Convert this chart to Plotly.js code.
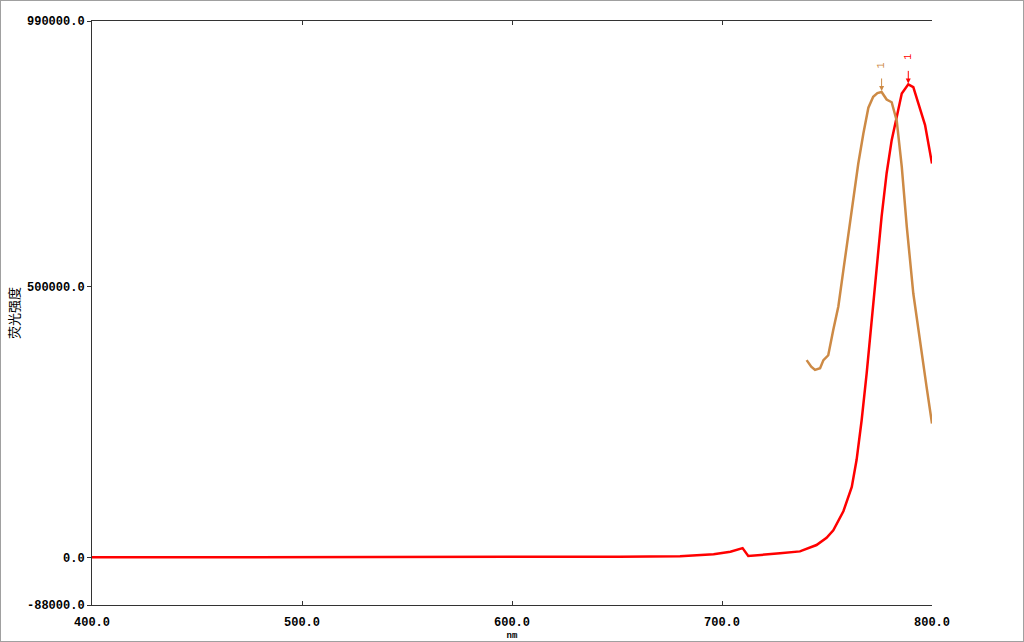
<!DOCTYPE html>
<html>
<head>
<meta charset="utf-8">
<script src="https://cdn.plot.ly/plotly-3.0.1.min.js"></script>
<style>
html,body{margin:0;padding:0;background:#fff;}
#wrap{position:relative;width:1024px;height:642px;}
#chart{width:1024px;height:642px;}
#frame{position:absolute;left:0;top:0;width:1022px;height:640px;border:1px solid #a0a0a0;pointer-events:none;}
</style>
</head>
<body>
<div id="wrap"><div id="chart"></div><div id="frame"></div></div>
<script>
// Emission spectrum (red)
const redX = [400, 500, 600, 650, 651, 680, 696, 704, 709.8, 712.5, 720, 727.6, 737.1, 745, 749.8, 753, 757.8, 761.8, 764.1, 766.5, 768.9, 771.3, 773.6, 776, 778.4, 780.8, 783.2, 785.6, 788.7, 791.1, 793.5, 796.7, 800];
const redY = [0, 0, 0, 0, 1200, 1800, 5500, 10300, 17000, 2400, 4500, 7400, 11000, 22700, 36000, 50000, 85000, 130000, 180000, 253000, 340000, 438000, 536000, 629000, 709000, 770000, 813000, 856000, 873000, 868000, 838000, 798000, 727000];

// Excitation spectrum (brown)
const brownX = [740.3, 742.5, 744.3, 746.7, 748.3, 750.6, 753, 755.4, 757.8, 760.2, 762.5, 764.9, 767.3, 769.7, 772, 774, 776, 778.4, 780.8, 783.2, 785.6, 788, 791.1, 794.3, 797.4, 800];
const brownY = [364000, 352000, 346000, 349000, 364000, 373000, 420000, 463000, 530000, 598000, 660000, 727000, 782000, 830000, 850000, 857000, 859000, 845000, 840000, 806000, 721000, 610000, 487000, 395000, 315000, 247000];

// Peak labels
const peakX = [776, 788.7];
const peakY = [859000, 873000];
const peakLabels = ["1", "1"];
const peakColors = ["#CD8A45", "#FF0000"];

// Axes ticks
const xTicks = [400, 500, 600, 700, 800];
const xTickText = ["400.0", "500.0", "600.0", "700.0", "800.0"];
const yTicks = [-88000, 0, 500000, 990000];
const yTickText = ["-88000.0", "0.0", "500000.0", "990000.0"];

const tickFont = {family: "Liberation Mono, DejaVu Sans Mono, monospace", size: 12, color: "#000", weight: "bold"};

const traces = [
  {x: redX, y: redY, type: "scatter", mode: "lines", line: {color: "#FF0000", width: 2.5}, hoverinfo: "skip"},
  {x: brownX, y: brownY, type: "scatter", mode: "lines", line: {color: "#CD8A45", width: 2.5}, hoverinfo: "skip"}
];

const annotations = [];
peakX.forEach((px, i) => {
  annotations.push({
    x: px, y: peakY[i], xref: "x", yref: "y", text: "",
    showarrow: true, ax: 0, ay: -15, arrowhead: 2, arrowsize: 1, arrowwidth: 1,
    arrowcolor: peakColors[i], standoff: 1
  });
  annotations.push({
    x: px, y: peakY[i], xref: "x", yref: "y", text: peakLabels[i], textangle: -90,
    showarrow: false, yshift: 26 + i * 2, yanchor: "middle",
    font: {family: "Liberation Mono, monospace", size: 10, color: peakColors[i]}
  });
});

const layout = {
  width: 1024, height: 642,
  margin: {l: 92, r: 92, t: 21, b: 37},
  paper_bgcolor: "#fff", plot_bgcolor: "#fff",
  showlegend: false,
  xaxis: {
    range: [400, 800], tickvals: xTicks, ticktext: xTickText,
    ticks: "inside", ticklen: 4, tickcolor: "#333", tickwidth: 1,
    showline: true, linecolor: "#333", linewidth: 1, mirror: "ticks",
    showgrid: false, zeroline: false, tickfont: tickFont, ticklabelstandoff: 6,
    title: {text: "nm", font: {family: "Liberation Mono, monospace", size: 9, color: "#000", weight: "bold"}, standoff: 2}
  },
  yaxis: {
    range: [-88000, 990000], tickvals: yTicks, ticktext: yTickText,
    ticks: "outside", ticklen: 4, tickcolor: "#333", tickwidth: 1,
    showline: true, linecolor: "#333", linewidth: 1, mirror: false,
    showgrid: false, zeroline: false, tickfont: tickFont, ticklabelstandoff: 0,
    title: {text: "荧光强度", font: {family: "Noto Sans CJK SC, sans-serif", size: 13, color: "#000"}, standoff: 4}
  },
  yaxis2: {
    overlaying: "y", side: "right", range: [-88000, 990000], tickvals: yTicks,
    ticks: "inside", ticklen: 4, tickcolor: "#333", showticklabels: false,
    showline: true, linecolor: "#333", linewidth: 1,
    showgrid: false, zeroline: false
  },
  annotations: annotations
};

Plotly.newPlot("chart", traces, layout, {staticPlot: true, displayModeBar: false});
</script>
</body>
</html>
